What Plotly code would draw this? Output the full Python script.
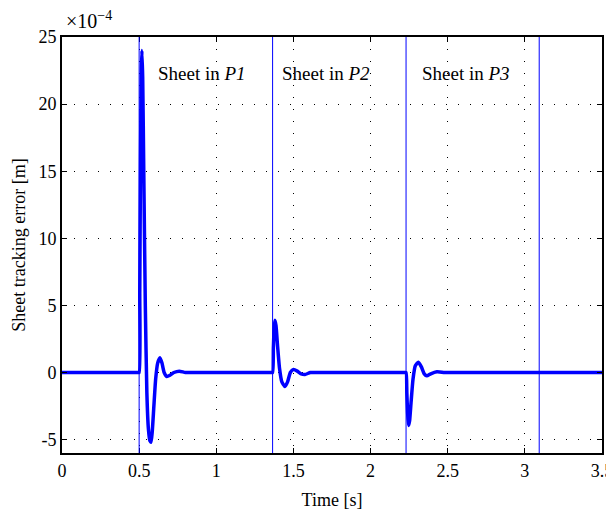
import plotly.graph_objects as go

# time [s] and sheet tracking error [x1e-4 m]
time_s = [0.0, 0.1, 0.2, 0.3, 0.4, 0.47, 0.49, 0.5, 0.504, 0.509, 0.514, 0.518, 0.523, 0.53,
          0.54, 0.55, 0.56, 0.57, 0.577, 0.585, 0.595, 0.607, 0.62, 0.635, 0.648, 0.662,
          0.68, 0.7, 0.725, 0.76, 0.8, 0.85, 0.9, 1.0, 1.1, 1.2, 1.3, 1.34, 1.355,
          1.365, 1.37, 1.375, 1.38, 1.387, 1.397, 1.41, 1.425, 1.445, 1.462, 1.48, 1.5,
          1.525, 1.55, 1.575, 1.61, 1.66, 1.72, 1.8, 1.9, 2.0, 2.1, 2.2, 2.22,
          2.23, 2.235, 2.24, 2.246, 2.253, 2.262, 2.275, 2.29, 2.31, 2.33, 2.348, 2.365,
          2.39, 2.43, 2.48, 2.55, 2.7, 2.9, 3.1, 3.3, 3.5]
error_e4 = [0.0, 0.0, 0.0, 0.0, 0.0, 0.0, 0.0, 0.0, 6.0, 16.0, 22.5, 24.0, 22.0, 15.0,
            5.0, -1.5, -4.2, -5.1, -5.2, -4.4, -2.6, -0.5, 0.7, 1.1, 0.7, 0.0,
            -0.3, -0.2, 0.0, 0.1, 0.0, 0.0, 0.0, 0.0, 0.0, 0.0, 0.0, 0.0, 0.0,
            0.0, 1.8, 3.3, 3.9, 3.5, 2.0, 0.3, -0.7, -1.05, -0.7, 0.0, 0.22,
            0.1, -0.1, -0.15, 0.0, 0.0, 0.0, 0.0, 0.0, 0.0, 0.0, 0.0, 0.0,
            0.0, -1.5, -3.0, -3.95, -3.6, -2.3, -0.5, 0.5, 0.77, 0.4, -0.1, -0.25,
            -0.1, 0.05, 0.0, 0.0, 0.0, 0.0, 0.0, 0.0, 0.0]

boundaries = [0.5, 1.365, 2.23, 3.093]
zone_labels = ["Sheet in <i>P1</i>", "Sheet in <i>P2</i>", "Sheet in <i>P3</i>"]
label_x = [0.907, 1.711, 2.62]

x_ticks = [0, 0.5, 1, 1.5, 2, 2.5, 3, 3.5]
x_ticktext = ["0", "0.5", "1", "1.5", "2", "2.5", "3", "3.5"]
y_ticks = [-5, 0, 5, 10, 15, 20, 25]
y_ticktext = ["-5", "0", "5", "10", "15", "20", "25"]

font = "Liberation Serif"

fig = go.Figure()

for b in boundaries:
    fig.add_vline(x=b, line=dict(color="#0000ff", width=1))

fig.add_trace(go.Scatter(
    x=time_s, y=error_e4, mode="lines",
    line=dict(color="#0000ff", width=3.5, shape="spline", smoothing=0.5),
    showlegend=False
))

for lx, txt in zip(label_x, zone_labels):
    fig.add_annotation(x=lx, y=22.3, text=txt, showarrow=False,
                       font=dict(family=font, size=19, color="black"))

fig.add_annotation(x=0, y=1, xref="paper", yref="paper", xanchor="left", yanchor="bottom",
                   xshift=2, yshift=3, text="×10<sup>−4</sup>", showarrow=False,
                   font=dict(family=font, size=20, color="black"))

axis_common = dict(
    showline=True, linecolor="black", linewidth=2, mirror="allticks",
    ticks="inside", ticklen=5, tickcolor="black",
    showgrid=True, gridcolor="black", gridwidth=1, griddash="1px,11px",
    zeroline=False, automargin=False,
    tickfont=dict(family=font, size=18, color="black"),
)

fig.update_xaxes(range=[0, 3.5], tickvals=x_ticks, ticktext=x_ticktext,
                 title=dict(text="Time [s]", font=dict(family=font, size=18, color="black"), standoff=14),
                 **axis_common)
fig.update_yaxes(range=[-6, 25], tickvals=y_ticks, ticktext=y_ticktext,
                 title=dict(text="Sheet tracking error [m]", font=dict(family=font, size=18, color="black"), standoff=8),
                 **axis_common)

# page body keeps an 8px margin, so the plot area is shifted up/left by 8px
fig.update_layout(
    width=614, height=514,
    margin=dict(l=54, r=20, t=29, b=69),
    plot_bgcolor="white", paper_bgcolor="white",
)

fig.write_html("out.html")
